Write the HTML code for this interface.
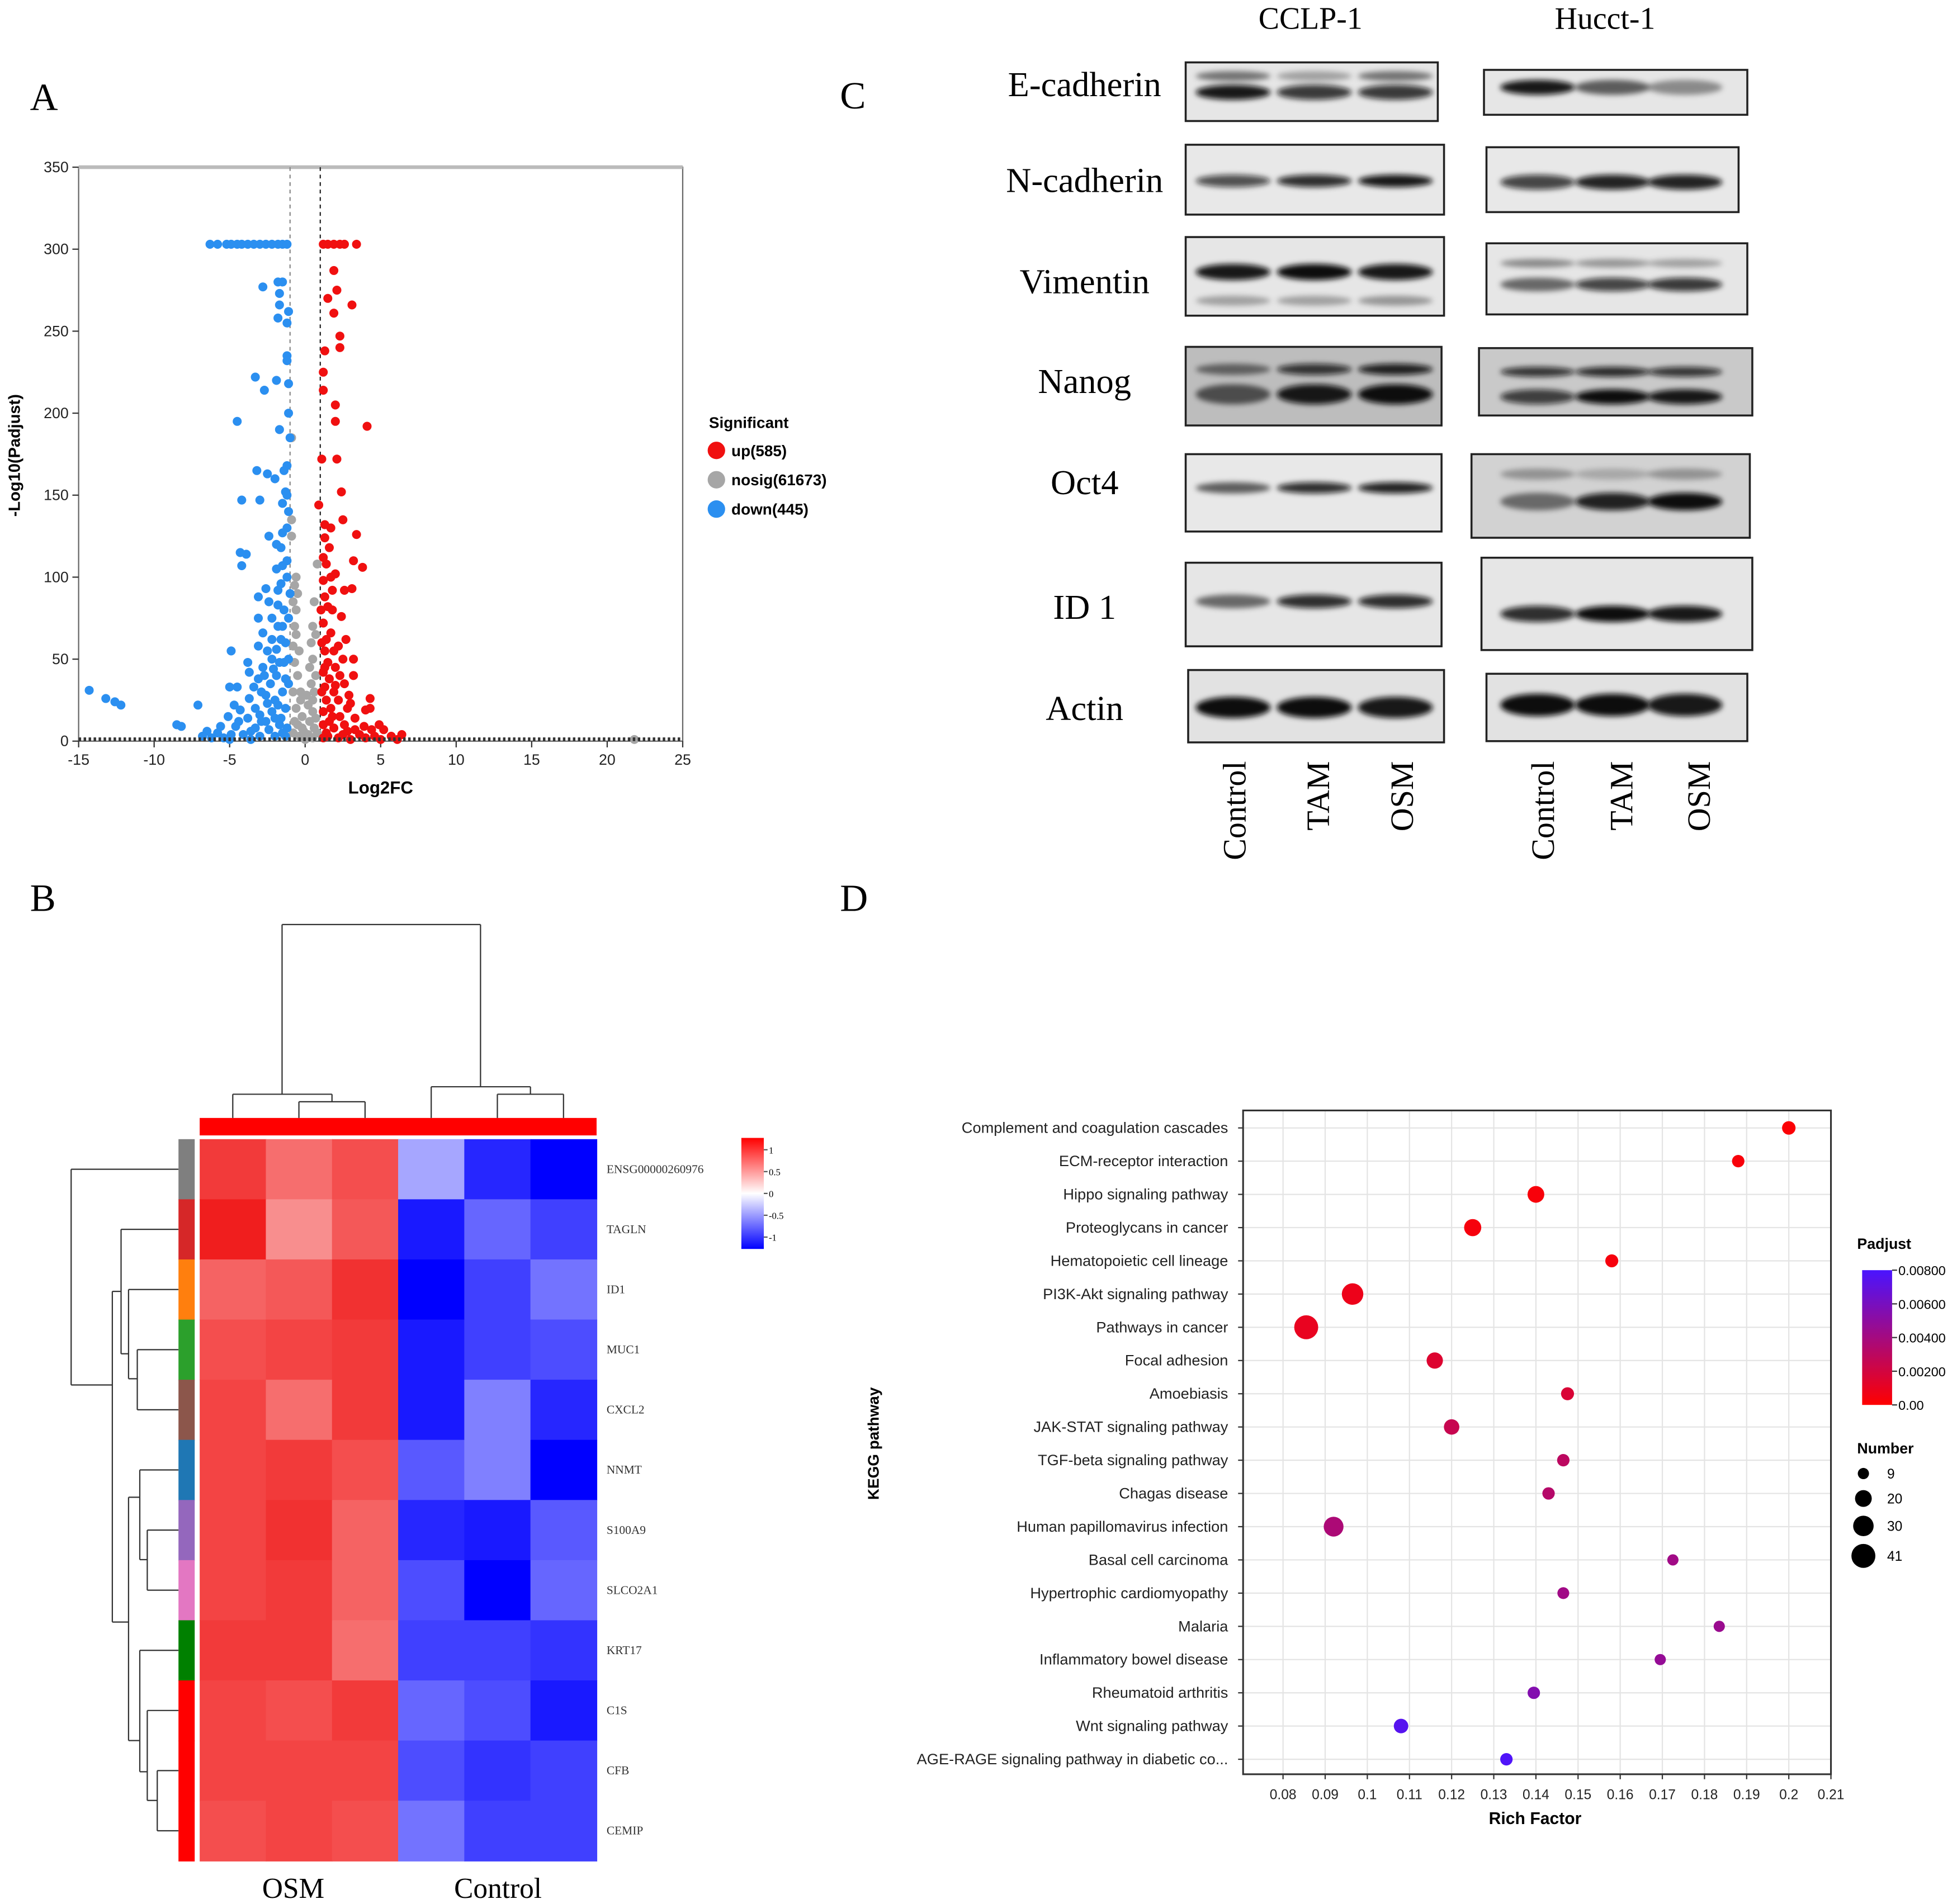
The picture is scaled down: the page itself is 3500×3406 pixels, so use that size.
<!DOCTYPE html>
<html><head><meta charset="utf-8"><style>
html,body{margin:0;padding:0;background:#fff}
svg{display:block}
text{font-family:"Liberation Sans",sans-serif}
.serif{font-family:"Liberation Serif",serif}
</style></head><body>
<svg id="fig" xmlns="http://www.w3.org/2000/svg" width="3500" height="3406" viewBox="0 0 1568 1526" preserveAspectRatio="none">
<defs>
<filter id="blur" x="-30%" y="-100%" width="160%" height="300%"><feGaussianBlur stdDeviation="2.2"/></filter>
<linearGradient id="hmgrad" x1="0" y1="0" x2="0" y2="1"><stop offset="0" stop-color="#ff0000"/><stop offset="0.5" stop-color="#ffffff"/><stop offset="1" stop-color="#0000ff"/></linearGradient>
<linearGradient id="pgrad" x1="0" y1="0" x2="0" y2="1"><stop offset="0" stop-color="#4a14ff"/><stop offset="1" stop-color="#ff0000"/></linearGradient>
</defs>
<g id="root"></g>
</svg>
<script>
// ---------- Panel A data ----------
const upTop=[1.2,1.5,1.9,2.3,2.6,3.4];
const downTop=[-6.3,-5.8,-5.2,-4.9,-4.5,-4.2,-3.8,-3.4,-3.0,-2.6,-2.2,-1.8,-1.5,-1.2];
const downPts=[[-1.8,280],[-1.5,280],[-2.8,277],[-1.7,273],[-1.7,266],[-1.1,262],[-1.8,258],[-1.2,255],[-1.2,235],[-1.2,232],[-3.3,222],[-1.9,220],[-1.1,218],[-2.7,214],[-1.1,200],[-4.5,195],[-1.7,190],[-1.0,185],[-1.2,168],[-1.4,165],[-3.2,165],[-2.5,163],[-2.0,160],[-1.3,152],[-1.2,150],[-4.2,147],[-3.0,147],[-1.5,145],[-1.1,140],[-1.2,130],[-2.4,125],[-1.9,120],[-1.6,118],[-4.3,115],[-3.9,114],[-4.2,107],[-1.5,107],[-1.9,105],[-1.2,100],[-1.6,96],[-2.6,93],[-1.8,92],[-3.1,88],[-2.4,85],[-1.8,83],[-3.1,75],[-2.2,75],[-1.8,70],[-2.8,66],[-1.6,62],[-3.1,58],[-2.5,55],[-4.9,55],[-2.2,50],[-1.4,48],[-3.8,48],[-3.7,42],[-2.8,45],[-1.9,40],[-3.1,38],[-2.3,35],[-3.4,33],[-5.0,33],[-4.5,33],[-1.5,30],[-2.6,28],[-3.7,26],[-2.0,25],[-4.7,22],[-3.3,20],[-4.3,19],[-1.3,20],[-2.2,18],[-5.1,15],[-3.8,14],[-2.9,12],[-1.7,10],[-8.2,9],[-4.6,9],[-3.3,8],[-2.4,7],[-6.5,6],[-5.8,5],[-4.9,4],[-4.1,4],[-3.0,3],[-2.0,3],[-6.8,3],[-5.4,2],[-14.3,31],[-13.2,26],[-12.6,24],[-12.2,22],[-7.1,22],[-8.5,10],[-6.2,2],[-5.0,1],[-3.6,1],[-1.3,3],[-1.6,14],[-1.1,50],[-1.1,75],[-1.2,110],[-1.5,127],[-1.0,90],[-1.3,60],[-1.1,35],[-2.5,23],[-3.0,16],[-1.9,56],[-2.7,40],[-1.4,80],[-1.2,8],[-1.5,5],[-2.6,12],[-1.8,22],[-2.1,44],[-1.3,38],[-2.9,30],[-1.7,48],[-2.2,62],[-1.5,70],[-3.6,6],[-4.4,12],[-5.6,9],[-2.0,14]];
const nosigPts=[[-0.9,185],[-0.9,135],[-0.9,125],[-0.6,100],[-0.7,95],[-0.8,85],[-0.6,80],[0.6,85],[0.8,108],[-0.7,70],[0.5,70],[-0.6,65],[0.4,60],[-0.4,55],[0.5,50],[-0.7,48],[0.3,45],[-0.5,40],[0.4,35],[-0.8,30],[0.6,30],[-0.3,25],[0.2,22],[-0.6,20],[0.5,18],[-0.2,15],[0.3,12],[-0.5,10],[0.6,8],[-0.1,6],[0.2,4],[-0.4,3],[0.5,2],[0,1],[-0.8,5],[0.8,5],[-0.7,12],[0.7,14],[-0.3,30],[0.1,28],[-0.8,58],[0.7,40],[21.8,1],[-0.5,90],[0.5,25],[-0.2,8],[0.7,65]];
const upPts=[[1.9,287],[2.1,275],[1.5,270],[3.1,266],[1.9,261],[2.3,247],[2.3,240],[1.3,238],[1.2,225],[1.2,214],[2.0,205],[2.0,195],[4.1,192],[1.1,172],[2.1,172],[2.4,152],[0.9,144],[2.5,135],[1.3,132],[1.7,130],[3.4,126],[1.3,124],[1.6,118],[1.2,112],[3.2,110],[1.4,108],[3.8,106],[1.7,100],[2.0,102],[1.2,98],[1.8,92],[2.6,92],[3.1,93],[1.3,88],[1.5,82],[1.8,80],[2.4,76],[1.2,72],[1.7,66],[1.4,62],[2.2,58],[1.3,55],[1.9,55],[2.5,50],[3.2,50],[1.5,48],[2.0,45],[1.2,42],[2.3,40],[3.2,40],[1.6,38],[2.6,35],[1.3,33],[1.9,30],[2.9,28],[1.4,25],[2.2,25],[4.3,26],[1.7,20],[2.8,20],[4.0,19],[4.3,20],[1.2,18],[2.3,15],[3.3,14],[1.6,12],[2.6,10],[3.9,9],[4.9,10],[1.9,8],[3.3,7],[4.4,7],[5.2,7],[1.4,5],[2.5,4],[3.6,4],[4.6,3],[5.7,3],[6.4,4],[1.2,2],[2.2,2],[3.0,1],[4.0,2],[5.0,1],[6.1,1],[1.1,60],[1.1,30],[1.05,80],[1.3,45],[2.7,62],[1.8,15],[3.0,23],[2.0,34],[1.2,10],[1.5,3],[2.8,6]];
const aXTicks=[-15,-10,-5,0,5,10,15,20,25];
const aYTicks=[0,50,100,150,200,250,300,350];
const legendA=["up(585)","nosig(61673)","down(445)"];

// ---------- Panel B data ----------
const genes=["ENSG00000260976","TAGLN","ID1","MUC1","CXCL2","NNMT","S100A9","SLCO2A1","KRT17","C1S","CFB","CEMIP"];
const hmValues=[
[0.85,0.6,0.75,-0.35,-0.85,-1],
[1,0.45,0.7,-0.9,-0.6,-0.75],
[0.65,0.7,0.9,-1,-0.75,-0.55],
[0.75,0.8,0.85,-0.9,-0.75,-0.7],
[0.8,0.6,0.85,-0.9,-0.5,-0.85],
[0.8,0.85,0.75,-0.65,-0.5,-1],
[0.8,0.9,0.65,-0.85,-0.9,-0.65],
[0.8,0.85,0.65,-0.7,-1,-0.6],
[0.85,0.85,0.6,-0.75,-0.75,-0.8],
[0.8,0.75,0.85,-0.6,-0.7,-0.9],
[0.8,0.8,0.8,-0.7,-0.8,-0.75],
[0.75,0.8,0.75,-0.55,-0.75,-0.75]];
const rowGroupColors=["#7f7f7f","#d62728","#ff7f0e","#2ca02c","#8c564b","#1f77b4","#9467bd","#e377c2","#008000","#ff0000","#ff0000","#ff0000"];
const hmTicks=[1,0.5,0,-0.5,-1];

// ---------- Panel D data ----------
const pathways=["Complement and coagulation cascades","ECM-receptor interaction","Hippo signaling pathway","Proteoglycans in cancer","Hematopoietic cell lineage","PI3K-Akt signaling pathway","Pathways in cancer","Focal adhesion","Amoebiasis","JAK-STAT signaling pathway","TGF-beta signaling pathway","Chagas disease","Human papillomavirus infection","Basal cell carcinoma","Hypertrophic cardiomyopathy","Malaria","Inflammatory bowel disease","Rheumatoid arthritis","Wnt signaling pathway","AGE-RAGE signaling pathway in diabetic co..."];
const richFactor=[0.2,0.188,0.14,0.125,0.158,0.0965,0.0855,0.116,0.1475,0.12,0.1465,0.143,0.092,0.1725,0.1465,0.1835,0.1695,0.1395,0.108,0.133];
const geneNumber=[13,11,20,21,12,33,41,19,12,17,11,11,28,9,10,9,9,11,15,11];
const padjust=[0.0002,0.0003,0.0003,0.0004,0.0004,0.0008,0.001,0.0015,0.0017,0.0025,0.003,0.0033,0.0037,0.0042,0.0042,0.0045,0.0047,0.0055,0.0075,0.0078];
const dXTicks=[0.08,0.09,0.1,0.11,0.12,0.13,0.14,0.15,0.16,0.17,0.18,0.19,0.2,0.21];
const padjTicks=["0.00800","0.00600","0.00400","0.00200","0.00"];
const numberLegend=[9,20,30,41];

// ---------- helpers ----------
const NS="http://www.w3.org/2000/svg";
const root=document.getElementById('root');
function mk(tag,attrs,parent,txt){const e=document.createElementNS(NS,tag);for(const k in attrs)e.setAttribute(k,attrs[k]);if(txt!==undefined)e.textContent=txt;(parent||root).appendChild(e);return e;}
function grp(name){const g=mk('g',{});return g;}

[["A",24,88],["B",24,730],["C",673,87],["D",673,730]].forEach(p=>{
 const t=mk('text',{x:p[1],y:p[2],'font-size':31,class:'serif'},root,p[0]);
 
 
});

// ---------- Panel A ----------
(function(){
 const g=grp('volcano-plot');
 const x0=63,x1=547,y0=594,y1=134;
 const sx=v=>x0+(v+15)/40*(x1-x0);
 const sy=v=>y0-v/350*(y0-y1);
 mk('rect',{x:x0,y:y1,width:x1-x0,height:y0-y1,fill:'none',stroke:'#666','stroke-width':1},g);
 mk('line',{x1:x0,y1:y1,x2:x1,y2:y1,stroke:'#bbb','stroke-width':3},g);
 aYTicks.forEach(v=>{mk('line',{x1:x0-5,x2:x0,y1:sy(v),y2:sy(v),stroke:'#333'},g);
  const t=mk('text',{x:x0-8,y:sy(v)+4,'font-size':12,'text-anchor':'end',fill:'#222'},g,v);
  });
 aXTicks.forEach(v=>{mk('line',{x1:sx(v),x2:sx(v),y1:y0,y2:y0+5,stroke:'#333'},g);
  const t=mk('text',{x:sx(v),y:y0+19,'font-size':12,'text-anchor':'middle',fill:'#222'},g,v);
  });
 mk('line',{x1:sx(-1),x2:sx(-1),y1:y1,y2:y0,stroke:'#888','stroke-dasharray':'3,3'},g);
 mk('line',{x1:sx(1),x2:sx(1),y1:y1,y2:y0,stroke:'#222','stroke-dasharray':'3,3'},g);
 function dot(x,y,c,n){const d=mk('circle',{cx:sx(x),cy:sy(y),r:3.6,fill:c},g);}
 nosigPts.forEach(p=>dot(p[0],p[1],'#a6a6a6','nosig-point'));
 downPts.forEach(p=>dot(p[0],p[1],'#2b8ff0','down-point'));
 upPts.forEach(p=>dot(p[0],p[1],'#f01010','up-point'));
 downTop.forEach(v=>dot(v,303,'#2b8ff0','down-point'));
 upTop.forEach(v=>dot(v,303,'#f01010','up-point'));
 mk('line',{x1:x0,x2:x1,y1:y0-1.5,y2:y0-1.5,stroke:'#333','stroke-width':3,'stroke-dasharray':'2,2'},g);
 const yt=mk('text',{x:0,y:0,'font-size':13,'font-weight':'bold','text-anchor':'middle',transform:'translate(16,365) rotate(-90)'},g,'-Log10(Padjust)');
 
 const xt=mk('text',{x:305,y:636,'font-size':14,'font-weight':'bold','text-anchor':'middle'},g,'Log2FC');
 
 const lg=mk('text',{x:568,y:343,'font-size':12.5,'font-weight':'bold'},g,'Significant');
 
 const cols=['#f01010','#a6a6a6','#2b8ff0'];
 legendA.forEach((s,i)=>{const y=361+i*23.5;
  const c=mk('circle',{cx:574,cy:y,r:7,fill:cols[i]},g);
  const t=mk('text',{x:586,y:y+4.5,'font-size':12.5,'font-weight':'bold'},g,s);});
})();

// ---------- Panel B ----------
(function(){
 const g=grp('heatmap');
 const hx=160,hy=913,cw=53,rh=48.2;
 function col(v){if(v>=0){const k=Math.round(255*(1-v*0.85));return `rgb(${255-Math.round(v*15)},${k*(1-v*0.2)|0},${k*(1-v*0.2)|0})`;}
  const a=-v;const k=Math.round(255*(1-a));return `rgb(${k},${k},255)`;}
 hmValues.forEach((row,i)=>row.forEach((v,j)=>{
  const r=mk('rect',{x:hx+j*cw,y:hy+i*rh,width:cw+0.5,height:rh+0.5,fill:col(v)},g);
  }));
 genes.forEach((s,i)=>{
  const rc=mk('rect',{x:143,y:hy+i*rh,width:13,height:rh+0.5,fill:rowGroupColors[i]},g);
  
  const t=mk('text',{x:486,y:hy+i*rh+rh/2+3,'font-size':9.6,class:'serif',fill:'#333'},g,s);
  });
 const cb=mk('rect',{x:160,y:896,width:318,height:14,fill:'#ff0000'},g);
 const cx=j=>hx+cw*(j+0.5);
 const dl=[[cx(1),883,cx(1),896],[cx(2),883,cx(2),896],[cx(1),883,cx(2),883],[cx(0),877,cx(0),896],[(cx(1)+cx(2))/2,877,(cx(1)+cx(2))/2,883],[cx(0),877,(cx(1)+cx(2))/2,877],
 [cx(4),877,cx(4),896],[cx(5),877,cx(5),896],[cx(4),877,cx(5),877],[cx(3),871,cx(3),896],[(cx(4)+cx(5))/2,871,(cx(4)+cx(5))/2,877],[cx(3),871,(cx(4)+cx(5))/2,871],
 [226,741,226,877],[385,741,385,871],[226,741,385,741]];
 dl.forEach(l=>mk('line',{x1:l[0],y1:l[1],x2:l[2],y2:l[3],stroke:'#333','stroke-width':1},g));
 const ry=i=>hy+rh*(i+0.5);
 const rl=[[57,ry(0),143,ry(0)],[57,ry(0),57,1110],[57,1110,90,1110],[90,1035,90,1300],
 [90,1035,97,1035],[97,ry(1),97,1085],[97,ry(1),143,ry(1)],[97,1085,103,1085],[103,ry(2),103,1105],[103,ry(2),143,ry(2)],[103,1105,110,1105],[110,ry(3),110,ry(4)],[110,ry(3),143,ry(3)],[110,ry(4),143,ry(4)],
 [90,1300,103,1300],[103,1200,103,1395],[103,1200,112,1200],[112,ry(5),112,1250],[112,ry(5),143,ry(5)],[112,1250,118,1250],[118,ry(6),118,ry(7)],[118,ry(6),143,ry(6)],[118,ry(7),143,ry(7)],
 [103,1395,112,1395],[112,ry(8),112,1420],[112,ry(8),143,ry(8)],[112,1420,118,1420],[118,ry(9),118,1443],[118,ry(9),143,ry(9)],[118,1443,126,1443],[126,ry(10),126,ry(11)],[126,ry(10),143,ry(10)],[126,ry(11),143,ry(11)]];
 rl.forEach(l=>mk('line',{x1:l[0],y1:l[1],x2:l[2],y2:l[3],stroke:'#333','stroke-width':1},g));
 const lb=mk('rect',{x:594,y:912,width:18,height:89,fill:'url(#hmgrad)'},g);
 hmTicks.forEach(v=>{const y=956.5-v*35;
  mk('line',{x1:612,x2:615,y1:y,y2:y,stroke:'#555'},g);
  const t=mk('text',{x:616,y:y+3,'font-size':7.5,class:'serif'},g,v);});
 [["OSM",235],["Control",399]].forEach(p=>{const t=mk('text',{x:p[1],y:1521,'font-size':23,'text-anchor':'middle',class:'serif'},g,p[0]);});
})();

// ---------- Panel C ----------
const blotRows=["E-cadherin","N-cadherin","Vimentin","Nanog","Oct4","ID 1","Actin"];
const blotLabelY=[68,145,226,306,387,487,568];
(function(){
 const g=grp('western-blots');
 [["CCLP-1",1050],["Hucct-1",1286]].forEach(p=>{const t=mk('text',{x:p[1],y:23,'font-size':25,'text-anchor':'middle',class:'serif'},g,p[0]);});
 blotRows.forEach((s,i)=>{const t=mk('text',{x:869,y:blotLabelY[i]+9,'font-size':28,'text-anchor':'middle',class:'serif'},g,s);});
 const boxes=[
  [950,50,1152,97,'#e6e6e6',[[74,12,[0.95,0.8,0.8]],[61,8,[0.5,0.3,0.5]]]],
  [950,116,1157,172,'#e8e8e8',[[145,10,[0.7,0.85,0.95]]]],
  [950,190,1157,253,'#e6e6e6',[[218,13,[0.95,1,0.95]],[241,8,[0.3,0.3,0.35]]]],
  [950,278,1155,341,'#bdbdbd',[[296,9,[0.5,0.8,0.9]],[316,16,[0.6,0.95,1]]]],
  [950,364,1155,426,'#e8e8e8',[[391,9,[0.6,0.85,0.9]]]],
  [950,451,1155,518,'#e6e6e6',[[482,11,[0.55,0.85,0.85]]]],
  [952,537,1157,595,'#e2e2e2',[[567,17,[1,1,0.95]]]],
  [1189,56,1400,92,'#e6e6e6',[[70,12,[0.95,0.6,0.4]]]],
  [1191,118,1393,170,'#e8e8e8',[[146,12,[0.75,0.9,0.9]]]],
  [1191,195,1400,252,'#e6e6e6',[[211,7,[0.4,0.35,0.3]],[228,11,[0.55,0.75,0.8]]]],
  [1185,279,1404,333,'#c9c9c9',[[298,8,[0.8,0.85,0.8]],[318,12,[0.75,1,0.95]]]],
  [1179,364,1402,431,'#d2d2d2',[[380,9,[0.3,0.2,0.3]],[402,14,[0.5,0.9,1]]]],
  [1187,447,1404,521,'#e6e6e6',[[492,13,[0.85,1,0.95]]]],
  [1191,540,1400,594,'#e2e2e2',[[565,18,[1,1,0.95]]]]];
 const lanesL=[988,1053,1118],lanesR=[1232,1292,1350];
 boxes.forEach((b,bi)=>{
  const r=mk('rect',{x:b[0],y:b[1],width:b[2]-b[0],height:b[3]-b[1],fill:b[4],stroke:'#222','stroke-width':1.6},g);
  
  const lanes=bi<7?lanesL:lanesR;
  b[5].forEach(band=>band[2].forEach((o,li)=>{
   const e=mk('ellipse',{cx:lanes[li],cy:band[0],rx:30,ry:band[1]/2,fill:'#0a0a0a','fill-opacity':o,filter:'url(#blur)'},g);
   }));
 });
 const lanesAll=[[998,"Control"],[1065,"TAM"],[1132,"OSM"],[1245,"Control"],[1308,"TAM"],[1370,"OSM"]];
 lanesAll.forEach(p=>{const t=mk('text',{x:0,y:0,'font-size':26,'text-anchor':'end',class:'serif',transform:`translate(${p[0]},610) rotate(-90)`},g,p[1]);});
})();

// ---------- Panel D ----------
(function(){
 const g=grp('kegg-bubble-chart');
 const x0=996,x1=1467,y0=890,y1=1422;
 const sx=v=>1028+(v-0.08)/0.13*(1467-1028);
 const sy=i=>904+i*(1410-904)/19;
 mk('rect',{x:x0,y:y0,width:x1-x0,height:y1-y0,fill:'#fff'},g);
 dXTicks.forEach(v=>{mk('line',{x1:sx(v),x2:sx(v),y1:y0,y2:y1,stroke:'#e4e4e4'},g);});
 pathways.forEach((s,i)=>{mk('line',{x1:x0,x2:x1,y1:sy(i),y2:sy(i),stroke:'#e4e4e4'},g);
  mk('line',{x1:x0-4,x2:x0,y1:sy(i),y2:sy(i),stroke:'#333'},g);
  const t=mk('text',{x:x0-12,y:sy(i)+4,'font-size':12.2,'text-anchor':'end',fill:'#222'},g,s);});
 mk('rect',{x:x0,y:y0,width:x1-x0,height:y1-y0,fill:'none',stroke:'#333','stroke-width':1.4},g);
 dXTicks.forEach(v=>{mk('line',{x1:sx(v),x2:sx(v),y1:y1,y2:y1+4,stroke:'#333'},g);
  const t=mk('text',{x:sx(v),y:y1+20,'font-size':11,'text-anchor':'middle',fill:'#222'},g,v);});
 function pcol(p){const t=Math.min(1,p/0.008);return `rgb(${Math.round(255-t*180)},${Math.round(t*20)},${Math.round(t*255)})`;}
 const rad=n=>Math.sqrt(n)*1.5;
 richFactor.forEach((v,i)=>{const c=mk('circle',{cx:sx(v),cy:sy(i),r:rad(geneNumber[i]),fill:pcol(padjust[i])},g);});
 const xt=mk('text',{x:1230,y:1462,'font-size':13.5,'font-weight':'bold','text-anchor':'middle'},g,'Rich Factor');
 const yt=mk('text',{x:0,y:0,'font-size':12.5,'font-weight':'bold','text-anchor':'middle',transform:'translate(704,1157) rotate(-90)'},g,'KEGG pathway');
 const pt=mk('text',{x:1488,y:1001,'font-size':12,'font-weight':'bold'},g,'Padjust');
 const cb=mk('rect',{x:1492,y:1018,width:24,height:108,fill:'url(#pgrad)'},g);
 padjTicks.forEach((s,i)=>{const y=1018+i*27;mk('line',{x1:1516,x2:1520,y1:y,y2:y,stroke:'#333'},g);
  const t=mk('text',{x:1521,y:y+4,'font-size':10.5},g,s);});
 const nt=mk('text',{x:1488,y:1165,'font-size':12,'font-weight':'bold'},g,'Number');
 const ly=[1181,1201,1223,1247];
 numberLegend.forEach((n,i)=>{const c=mk('circle',{cx:1493,cy:ly[i],r:rad(n),fill:'#000'},g);
  const t=mk('text',{x:1512,y:ly[i]+4,'font-size':11},g,n);});
})();
</script>
</body></html>
